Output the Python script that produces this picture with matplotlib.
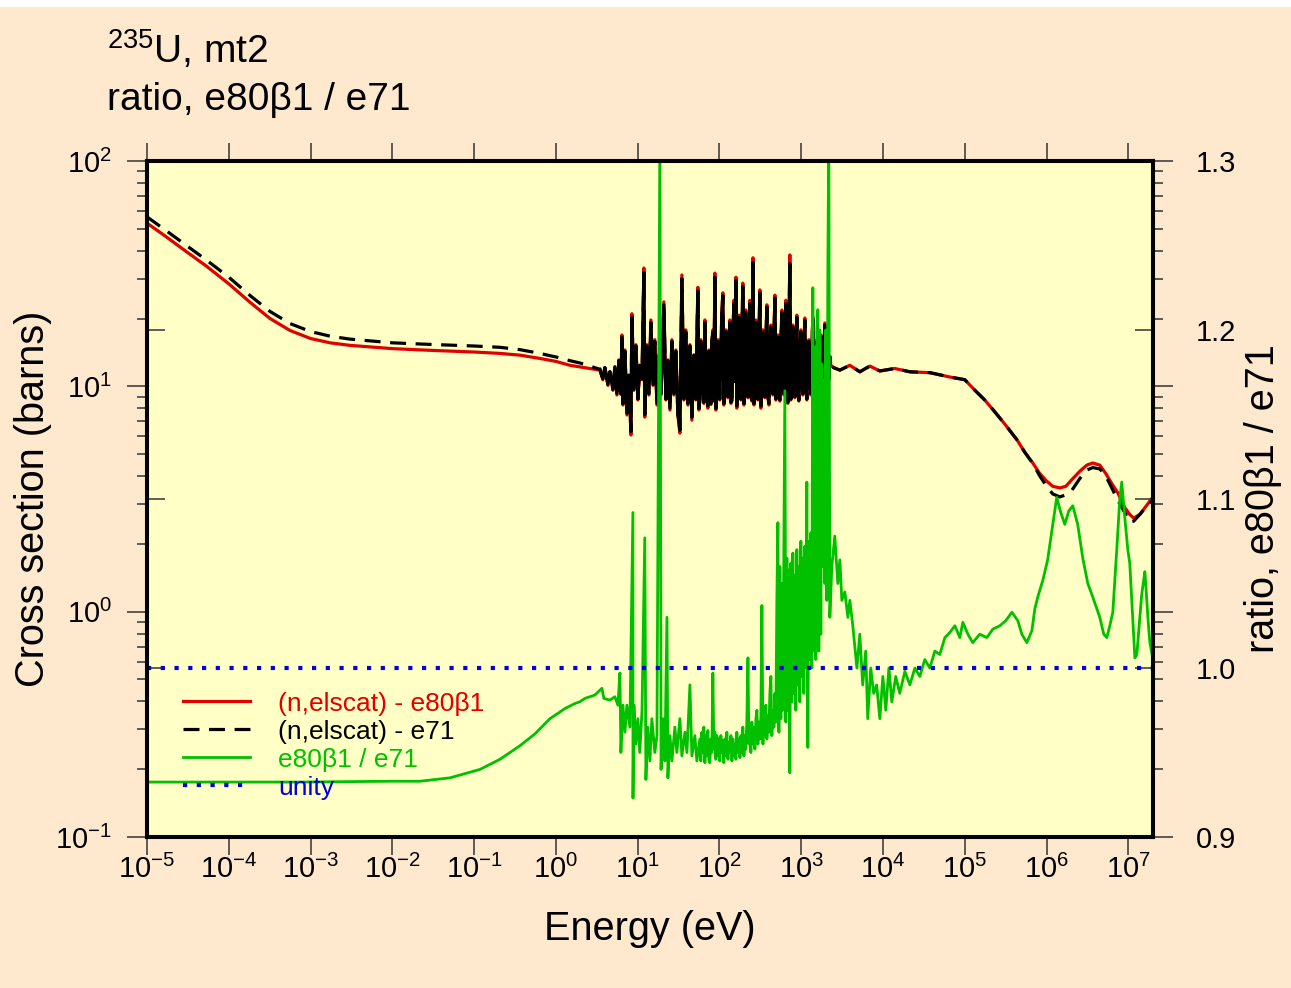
import numpy as np
import matplotlib.pyplot as plt
from matplotlib.patches import Rectangle
from matplotlib.ticker import FixedLocator, FixedFormatter, NullLocator, NullFormatter, LogLocator

plt.rcParams['font.family'] = ['Liberation Sans', 'DejaVu Sans']
plt.rcParams['mathtext.fontset'] = 'custom'
plt.rcParams['mathtext.rm'] = 'Liberation Sans'
plt.rcParams['mathtext.it'] = 'Liberation Sans:italic'
plt.rcParams['mathtext.bf'] = 'Liberation Sans:bold'

# ---- data ----
# smooth thermal part (eV, barns)
E_LOW = [1e-5, 1.66e-5, 2.92e-5, 5.41e-5, 1e-4, 1.82e-4, 3.19e-4, 5.6e-4, 1e-3, 1.73e-3,
         3.03e-3, 1e-2, 0.0288, 0.1, 0.207, 0.363, 0.637, 1.0, 1.48, 1.96, 2.6]
XS80_LOW = [53, 46.5, 40, 34, 28.5, 23.6, 20.0, 17.7, 16.3, 15.6,
            15.2, 14.7, 14.45, 14.2, 14.0, 13.75, 13.3, 12.9, 12.4, 12.2, 12.0]
XS71_LOW = [56.5, 49.5, 42.6, 36.2, 30.5, 25.3, 21.5, 19.0, 17.5, 16.7,
            16.2, 15.6, 15.35, 15.1, 14.9, 14.55, 14.0, 13.5, 13.0, 12.7, 12.3]

# first resonances, 3.4 - 56 eV
E_RES = [3.45, 3.75, 3.97, 4.32, 4.57, 4.98, 5.26, 5.57, 5.89, 6.23, 6.41, 6.6, 6.98, 7.38,
         7.81, 8.26, 8.49, 8.99, 9.51, 10.05, 10.6, 11.3, 11.9, 12.2, 12.9, 13.7, 14.5, 15.4,
         16.2, 17.2, 18.2, 19.3, 20.9, 22.1, 23.4, 24.8, 26.2, 27.7, 29.3, 31.0, 32.8, 34.7,
         36.7, 38.8, 41.1, 43.5, 46.0, 48.6, 51.4, 54.4, 56.0]
XS80_RES = [11.8, 10.7, 12.1, 10.1, 11.6, 9.6, 12.2, 9.15, 13.1, 9.2, 16.9, 8.26, 14.5, 7.46,
            11.2, 6.08, 21.0, 9.6, 15.3, 8.7, 12.4, 10.7, 33.5, 7.3, 15.3, 9.15, 19.7, 10.1,
            16.1, 8.26, 13.8, 9.15, 23.7, 8.7, 13.1, 7.85, 16.1, 9.15, 14.5, 7.46, 6.2, 31.2,
            8.7, 17.8, 8.26, 15.3, 7.08, 13.8, 8.7, 27.5, 7.85]
XS71_RES = [11.9, 10.8, 12.1, 10.2, 11.6, 9.7, 12.2, 9.3, 13.0, 9.3, 16.5, 8.4, 14.3, 7.6,
            11.2, 6.3, 20.3, 9.7, 15.1, 8.8, 12.4, 10.8, 32.0, 7.5, 15.1, 9.3, 19.2, 10.2,
            15.8, 8.4, 13.7, 9.3, 23.0, 8.8, 13.0, 8.0, 15.8, 9.3, 14.3, 7.6, 6.4, 30.0,
            8.8, 17.4, 8.4, 15.1, 7.3, 13.7, 8.8, 26.5, 8.0]

# dense resonance band, 57 eV - 2.3 keV
E_DENSE = [57.6, 59.2, 60.9, 62.6, 64.4, 66.3, 68.2, 70.1, 72.1, 74.2, 76.3, 78.5, 80.7, 83.0,
           85.4, 87.8, 90.3, 92.9, 95.5, 98.3, 101, 104, 107, 110, 113, 116, 120, 123, 127,
           130, 134, 138, 142, 146, 150, 154, 159, 163, 168, 173, 178, 183, 188, 193, 199,
           205, 210, 216, 223, 229, 236, 242, 249, 257, 264, 271, 279, 287, 295, 304, 312,
           321, 330, 340, 349, 359, 369, 380, 391, 402, 413, 425, 437, 450, 463, 476, 489,
           503, 518, 533, 548, 563, 579, 596, 613, 630, 648, 667, 686, 705, 725, 746, 767,
           789, 812, 835, 859, 883, 908, 934, 961, 989, 1017, 1045, 1075, 1106, 1138, 1170,
           1204, 1238, 1273, 1310, 1347, 1385, 1425, 1466, 1507, 1550, 1595, 1640, 1687,
           1735, 1785, 1836, 1888, 1942, 1997, 2055, 2113, 2173, 2235]
XS80_DENSE = [8.7, 16.1, 9.2, 13.5, 8.4, 19.7, 9.0, 12.8, 8.0, 14.5, 9.4, 8.3, 15.8, 17.8,
              8.6, 31.8, 7.85, 13.0, 16.1, 8.9, 8.7, 14.2, 21.8, 26.0, 8.26, 12.5, 17.8, 9.3,
              8.9, 15.0, 19.7, 8.4, 8.6, 16.5, 24.1, 10.5, 30.5, 8.0, 12.2, 20.7, 9.1, 8.7,
              17.0, 28.7, 8.26, 13.8, 21.8, 9.5, 8.9, 16.2, 24.1, 9.0, 8.6, 37.2, 8.26, 15.0,
              19.7, 9.3, 8.7, 17.5, 26.8, 8.0, 12.8, 17.8, 9.6, 8.9, 15.5, 23.0, 9.0, 8.26,
              14.0, 18.7, 9.8, 9.15, 16.0, 25.4, 8.7, 12.5, 16.9, 9.2, 8.6, 15.2, 21.8, 9.9,
              9.15, 17.0, 24.1, 9.6, 8.4, 15.8, 38.3, 8.7, 13.2, 18.7, 9.4, 8.9, 14.5, 20.7,
              9.7, 8.6, 13.8, 17.8, 10.0, 9.15, 14.8, 20.1, 9.9, 8.7, 13.5, 16.1, 10.2, 9.15,
              14.6, 20.3, 10.0, 8.7, 13.9, 16.1, 10.3, 8.9, 13.0, 16.9, 10.5, 9.6, 14.2, 19.1,
              10.8, 9.15, 15.3, 10.7, 13.5]
XS71_DENSE = [8.8, 15.8, 9.3, 13.4, 8.5, 19.2, 9.1, 12.7, 8.2, 14.3, 9.5, 8.4, 15.6, 17.4,
              8.7, 30.5, 8.0, 12.9, 15.8, 9.0, 8.8, 14.0, 21.2, 25.2, 8.4, 12.4, 17.4, 9.4,
              9.0, 14.8, 19.2, 8.5, 8.7, 16.2, 23.3, 10.5, 29.5, 8.2, 12.1, 20.2, 9.2, 8.8,
              16.7, 27.8, 8.4, 13.7, 21.2, 9.6, 9.0, 16.0, 23.3, 9.1, 8.7, 35.5, 8.4, 14.8,
              19.2, 9.4, 8.8, 17.2, 26.0, 8.2, 12.7, 17.4, 9.7, 9.0, 15.3, 22.4, 9.1, 8.4,
              13.9, 18.3, 9.9, 9.3, 15.8, 24.6, 8.8, 12.4, 16.5, 9.3, 8.7, 15.0, 21.2, 10.0,
              9.3, 16.7, 23.3, 9.7, 8.5, 15.6, 35.0, 8.8, 13.1, 18.3, 9.5, 9.0, 14.3, 20.2,
              9.8, 8.7, 13.7, 17.4, 10.1, 9.3, 14.6, 19.6, 10.0, 8.8, 13.4, 15.8, 10.3, 9.3,
              14.4, 19.8, 10.1, 8.8, 13.8, 15.8, 10.4, 9.0, 12.9, 16.5, 10.6, 9.7, 14.0, 18.7,
              10.9, 9.3, 15.1, 10.8, 13.5]

# unresolved / fast region
E_HIGH = [2300, 2500, 2965, 3930, 5200, 6900, 9140, 13900, 21300, 37300, 65600, 1e5, 1.33e5,
          1.75e5, 2.33e5, 3.08e5, 4.33e5, 5.41e5, 6.77e5, 8.26e5, 1.0e6, 1.19e6, 1.45e6,
          1.72e6, 2.03e6, 2.55e6, 3.1e6, 3.67e6, 4.47e6, 5.3e6, 6.27e6, 7.42e6, 9.0e6,
          1.04e7, 1.16e7, 1.38e7, 1.68e7, 2.0e7]
XS80_HIGH = [12.4, 12.1, 11.8, 12.4, 11.6, 12.3, 11.7, 12.0, 11.6, 11.5, 11.0, 10.7, 9.6,
             8.7, 7.7, 6.8, 5.8, 5.1, 4.57, 4.1, 3.8, 3.6, 3.54, 3.6, 3.85, 4.2, 4.47, 4.57,
             4.47, 4.1, 3.7, 3.37, 2.9, 2.7, 2.6, 2.7, 2.97, 3.23]
XS71_HIGH = [12.4, 12.1, 11.8, 12.4, 11.6, 12.3, 11.7, 12.0, 11.6, 11.5, 11.0, 10.7, 9.6,
             8.7, 7.7, 6.8, 5.8, 5.1, 4.55, 4.0, 3.6, 3.33, 3.23, 3.3, 3.45, 3.9, 4.25, 4.36,
             4.3, 4.0, 3.54, 3.12, 2.76, 2.5, 2.52, 2.7, 2.94, 3.12]

# ratio e80b1 / e71
E_RATIO_LOW = [1e-5, 7.42e-4, 0.01, 0.0217, 0.0506, 0.118, 0.207, 0.363, 0.554, 0.845,
               1.29, 1.71, 1.96, 2.26, 3.0, 3.65, 3.86, 4.57, 5.26, 5.73, 6.06, 6.23, 6.6,
               6.98, 7.38, 8.03, 8.74, 8.76, 8.99, 9.51, 10.05, 10.6, 11.3, 12.2, 12.6, 13.3,
               14.1, 14.9, 16.2, 17.2, 18.7, 19.3, 20.4, 21.5, 22.8, 23.4, 24.8, 26.2, 28.5,
               30.1, 32.8, 34.7, 37.8, 40.0, 43.5, 46.0, 50.0, 52.9]
RATIO_LOW = [0.9325, 0.9325, 0.933, 0.933, 0.935, 0.940, 0.946, 0.954, 0.961, 0.970,
             0.976, 0.979, 0.980, 0.982, 0.984, 0.988, 0.982, 0.981, 0.983, 0.978, 0.997,
             0.950, 0.978, 0.962, 0.978, 0.965, 1.092, 0.923, 0.978, 0.955, 0.970, 0.950,
             0.975, 1.077, 0.934, 0.965, 0.945, 0.970, 0.950, 0.960, 1.32, 0.940, 0.970,
             0.945, 1.030, 0.935, 0.960, 0.945, 0.965, 0.950, 0.970, 0.948, 0.962, 0.950,
             0.990, 0.948, 0.960, 0.945]
RATIO_DENSE = [0.958, 0.945, 0.962, 0.950, 0.965, 0.944, 0.960, 0.948, 0.963, 0.945, 0.944,
               0.958, 0.950, 0.997, 0.952, 0.962, 0.946, 0.960, 0.948, 0.958, 0.945, 0.960,
               0.950, 0.957, 0.944, 0.958, 0.948, 0.962, 0.946, 0.956, 0.950, 0.960, 0.945,
               0.958, 0.948, 0.955, 0.946, 0.962, 0.950, 0.958, 0.947, 0.960, 0.950, 0.965,
               0.948, 0.960, 0.952, 0.968, 1.006, 0.955, 0.962, 0.950, 0.968, 0.955, 0.965,
               0.952, 0.970, 0.975, 0.955, 0.968, 0.958, 0.972, 1.037, 0.955, 0.975, 0.960,
               0.978, 0.958, 0.972, 0.962, 0.985, 0.995, 0.960, 0.975, 0.965, 0.985, 0.968,
               1.040, 1.086, 0.962, 1.060, 0.970, 1.050, 0.975, 1.070, 1.164, 0.968, 1.065,
               0.975, 1.058, 0.938, 1.062, 0.980, 1.068, 0.985, 1.055, 0.975, 1.070, 0.990,
               1.060, 0.980, 1.075, 0.995, 1.065, 0.985, 1.072, 1.000, 1.110, 0.953, 1.075,
               1.005, 1.080, 1.000, 1.225, 1.010, 1.190, 1.005, 1.200, 1.212, 1.010, 1.200,
               1.020, 1.180, 1.060, 1.170, 1.050, 1.200, 1.040, 1.233, 1.32, 1.030]
E_RATIO_HIGH = [2365, 2570, 2800, 2965, 3136, 3410, 3715, 3930, 4270, 4790, 5200, 5640,
                6140, 6500, 7070, 7680, 8350, 9140, 9945, 10800, 11800, 12800, 14300, 16000,
                18500, 21300, 24500, 28200, 32400, 37300, 43000, 49500, 57000, 65600, 75500,
                86900, 94600, 1.09e5, 1.25e5, 1.52e5, 1.86e5, 2.2e5, 2.68e5, 3.17e5, 3.76e5,
                4.45e5, 4.98e5, 5.73e5, 6.6e5, 7.18e5, 7.8e5, 9.0e5, 1.03e6, 1.19e6, 1.33e6,
                1.49e6, 1.67e6, 1.87e6, 2.09e6, 2.4e6, 2.77e6, 3.19e6, 3.67e6, 4.47e6, 5.0e6,
                5.45e6, 5.93e6, 6.45e6, 7.21e6, 7.85e6, 8.3e6, 9.0e6, 9.84e6, 1.04e7, 1.13e7,
                1.2e7, 1.27e7, 1.38e7, 1.46e7, 1.59e7, 1.63e7, 1.73e7, 1.83e7, 1.93e7, 2.0e7]
RATIO_HIGH = [1.060, 1.078, 1.050, 1.064, 1.040, 1.045, 1.030, 1.040, 1.025, 1.000, 1.020,
              0.990, 1.010, 0.970, 1.000, 0.985, 0.990, 0.970, 0.995, 0.975, 1.000, 0.980,
              0.995, 0.985, 0.998, 0.990, 1.000, 0.995, 1.005, 1.000, 1.010, 1.008, 1.018,
              1.021, 1.025, 1.018, 1.027, 1.020, 1.015, 1.020, 1.018, 1.023, 1.025, 1.028,
              1.033, 1.028, 1.020, 1.015, 1.022, 1.035, 1.042, 1.052, 1.064, 1.085, 1.101,
              1.092, 1.085, 1.093, 1.096, 1.085, 1.065, 1.050, 1.042, 1.030, 1.020, 1.018,
              1.025, 1.033, 1.070, 1.100, 1.110, 1.090, 1.070, 1.062, 1.030, 1.006, 1.008,
              1.030, 1.044, 1.057, 1.050, 1.030, 1.015, 1.009, 1.005]

LABELS = ['(n,elscat) - e80\u03b21', '(n,elscat) - e71', 'e80\u03b21 / e71', 'unity']
COLORS = ['#e00000', '#000000', '#00c000', '#0000e0']
X_TICKS = [10.0 ** k for k in range(-5, 8)]
X_TICKLABELS = ['$10^{%d}$' % k for k in range(-5, 8)]
Y_TICKS = [0.1, 1, 10, 100]
Y_TICKLABELS = ['$10^{-1}$', '$10^{0}$', '$10^{1}$', '$10^{2}$']
R_TICKS = [0.9, 1.0, 1.1, 1.2, 1.3]
R_TICKLABELS = ['0.9', '1.0', '1.1', '1.2', '1.3']

PEACH = '#fee9cf'
YELLOW = '#ffffc6'

xs_E = E_LOW + E_RES + E_DENSE + E_HIGH
e80_xs = XS80_LOW + XS80_RES + XS80_DENSE + XS80_HIGH
e71_xs = XS71_LOW + XS71_RES + XS71_DENSE + XS71_HIGH
ratio_E = E_RATIO_LOW + E_DENSE + E_RATIO_HIGH
ratio = RATIO_LOW + RATIO_DENSE + RATIO_HIGH

fig = plt.figure(figsize=(12.91, 9.88), dpi=100, facecolor=PEACH)
fig.patches.append(Rectangle((0, 1 - 7 / 988), 1, 7 / 988, transform=fig.transFigure,
                             facecolor='white', edgecolor='none', zorder=0))

ax = fig.add_axes([147 / 1291, 1 - 837 / 988, 1006 / 1291, 676 / 988])
ax.set_facecolor(YELLOW)
ax.set_xscale('log')
ax.set_yscale('log')
ax.set_xlim(1e-5, 2e7)
ax.set_ylim(0.1, 100)

l1, = ax.plot(xs_E, e80_xs, color=COLORS[0], lw=2.3)
l2, = ax.plot(xs_E, e71_xs, color=COLORS[1], lw=2.3, dashes=(5, 3))
# the resonance band reads as solid black in the original
ax.plot(E_RES + E_DENSE, XS71_RES + XS71_DENSE, color=COLORS[1], lw=2.3)

ax2 = ax.twinx()
ax2.set_ylim(0.9, 1.3)
l3, = ax2.plot(ratio_E, ratio, color=COLORS[2], lw=2.0)
l4 = ax2.axhline(1.0, color=COLORS[3], lw=3, dashes=(1, 2.3))

# ticks
ax.xaxis.set_major_locator(FixedLocator(X_TICKS))
ax.xaxis.set_major_formatter(FixedFormatter(X_TICKLABELS))
ax.xaxis.set_minor_locator(NullLocator())
ax.tick_params(axis='x', which='major', direction='out', length=13, width=1.1,
               top=True, bottom=True, labelsize=21, pad=0, color='#333333')
ax.yaxis.set_major_locator(FixedLocator(Y_TICKS))
ax.yaxis.set_major_formatter(FixedFormatter(Y_TICKLABELS))
ax.yaxis.set_minor_locator(LogLocator(base=10, subs=np.arange(2, 10)))
ax.yaxis.set_minor_formatter(NullFormatter())
ax.tick_params(axis='y', which='major', direction='out', length=14.4, width=1.1,
               left=True, right=True, labelleft=True, labelright=False, labelsize=21,
               pad=11, color='#333333')
ax.tick_params(axis='y', which='minor', direction='out', length=7.2, width=1.1,
               left=True, right=True, color='#333333')

ax2.yaxis.set_major_locator(FixedLocator(R_TICKS))
ax2.yaxis.set_major_formatter(FixedFormatter(R_TICKLABELS))
ax2.yaxis.set_minor_locator(NullLocator())
ax2.tick_params(axis='y', direction='in', length=13, width=1.1, left=True, right=True,
                labelleft=False, labelright=True, labelsize=21, pad=31, color='#333333')

for a in (ax, ax2):
    for s in a.spines.values():
        s.set_linewidth(2.9)
        s.set_color('black')

ax.set_xlabel('Energy (eV)', fontsize=28.5)
ax.xaxis.set_label_coords(0.5, -0.108)
ax.set_ylabel('Cross section (barns)', fontsize=28.5)
ax.yaxis.set_label_coords(-0.094, 0.5)
ax2.set_ylabel('ratio, e80\u03b21 / e71', fontsize=28.5, rotation=90)
ax2.yaxis.set_label_coords(1.09, 0.5)

fig.text(107 / 1291, 1 - 63 / 988, '$^{235}$U, mt2', fontsize=28, va='baseline')
fig.text(107 / 1291, 1 - 110 / 988, 'ratio, e80\u03b21 / e71', fontsize=28, va='baseline')

leg = ax2.legend([l1, l2, l3, l4], LABELS, loc='upper left', bbox_to_anchor=(0.036, 0.215),
                 frameon=False, fontsize=19, handlelength=2.54, handletextpad=1.06,
                 labelspacing=0.15, borderpad=0, borderaxespad=0)
for t, c in zip(leg.get_texts(), COLORS):
    t.set_color(c)

fig.savefig('out.png', dpi=100, facecolor=PEACH)
